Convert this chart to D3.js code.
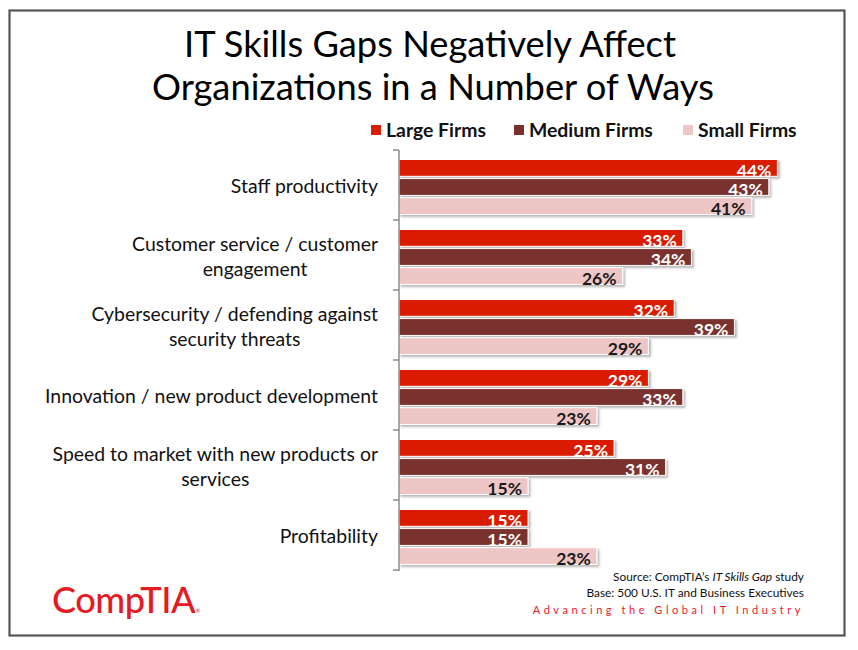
<!DOCTYPE html>
<html>
<head>
<meta charset="utf-8">
<script src="https://cdn.jsdelivr.net/npm/d3@7"></script>
<style>
  html, body { margin: 0; padding: 0; background: #fff; }
  svg { display: block; }
  text { font-family: Lato, "Open Sans", sans-serif; }
</style>
</head>
<body>
<svg id="chart" width="858" height="650"></svg>
<script>
// ---- data ----
const titleLines = ["IT Skills Gaps Negatively Affect", "Organizations in a Number of Ways"];
const categories = [
  ["Staff productivity"],
  ["Customer service / customer", "engagement"],
  ["Cybersecurity / defending against", "security threats"],
  ["Innovation / new product development"],
  ["Speed to market with new products or", "services"],
  ["Profitability"]
];
const seriesNames = ["Large Firms", "Medium Firms", "Small Firms"];
const largeFirms  = [44, 33, 32, 29, 25, 15];
const mediumFirms = [43, 34, 39, 33, 31, 15];
const smallFirms  = [41, 26, 29, 23, 15, 23];
const seriesValues = [largeFirms, mediumFirms, smallFirms];
const seriesColors = ["#d91f05", "#7a302d", "#efc6c6"];
const labelColors  = ["#ffffff", "#ffffff", "#1a1a1a"];
const sourceLines = ["Base: 500 U.S. IT and Business Executives"];
const tagline = "Advancing the Global IT Industry";

// ---- setup ----
const svg = d3.select("#chart");
const defs = svg.append("defs");
const f = defs.append("filter").attr("id", "shadow").attr("x", "-5%").attr("y", "-30%").attr("width", "115%").attr("height", "180%");
f.append("feDropShadow").attr("dx", 2).attr("dy", 2).attr("stdDeviation", 1.2)
  .attr("flood-color", "#000").attr("flood-opacity", 0.28);

// frame
svg.append("rect").attr("x", 9.5).attr("y", 10.5).attr("width", 835).attr("height", 625)
  .attr("fill", "none").attr("stroke", "#555").attr("stroke-width", 2.2);

function fit(sel, target) {
  const w = sel.node().getComputedTextLength();
  const fs = parseFloat(sel.attr("font-size"));
  sel.attr("font-size", fs * target / w);
  return fs * target / w;
}

// title
const t1 = svg.append("text").attr("x", 430).attr("y", 57).attr("text-anchor", "middle")
  .attr("font-size", 34).attr("fill", "#000").text(titleLines[0]);
const t2 = svg.append("text").attr("x", 433).attr("y", 100).attr("text-anchor", "middle")
  .attr("font-size", 34).attr("fill", "#000").text(titleLines[1]);
const tfs = fit(t2, 562);
t1.attr("font-size", tfs);

// scales
const x = d3.scaleLinear().domain([0, 50]).range([399, 399 + 50 * 8.6]);
const y = d3.scaleBand().domain(d3.range(categories.length)).range([150, 570]).padding(0);
const ySub = d3.scaleBand().domain(d3.range(seriesNames.length))
  .range([9.5, 9.5 + 55]).paddingInner(0.12).paddingOuter(0);

// legend
const legendX = [371, 514, 683];
const legend = svg.append("g");
let legFs = 18;
seriesNames.forEach((name, i) => {
  legend.append("rect").attr("x", legendX[i]).attr("y", 125).attr("width", 10).attr("height", 10)
    .attr("fill", seriesColors[i]);
  const lt = legend.append("text").attr("x", legendX[i] + 15).attr("y", 137)
    .attr("font-size", 18).attr("font-weight", "bold").attr("fill", "#111").text(name);
  if (i === 1) legFs = fit(lt, 124);
});
legend.selectAll("text").attr("font-size", legFs);

// bars
const groups = svg.append("g").selectAll("g").data(categories).join("g")
  .attr("transform", (d, i) => `translate(0,${y(i)})`);

seriesValues.forEach((vals, s) => {
  groups.append("rect")
    .attr("x", x(0))
    .attr("y", ySub(s))
    .attr("width", (d, i) => x(vals[categories.indexOf(d)]) - x(0))
    .attr("height", ySub.bandwidth())
    .attr("fill", seriesColors[s])
    .attr("stroke", "#fff").attr("stroke-width", 1)
    .attr("filter", "url(#shadow)");
});
seriesValues.forEach((vals, s) => {
  groups.append("text")
    .attr("x", (d) => x(vals[categories.indexOf(d)]) - 6)
    .attr("y", ySub(s) + ySub.bandwidth() + 0.5)
    .attr("text-anchor", "end")
    .attr("font-size", 17.5).attr("font-weight", "bold")
    .attr("fill", labelColors[s])
    .text((d) => vals[categories.indexOf(d)] + "%");
});

// axis
const axG = svg.append("g").attr("transform", `translate(${x(0)},0)`);
axG.append("line").attr("x1", 0).attr("x2", 0).attr("y1", 150).attr("y2", 571)
  .attr("stroke", "#8c8c8c").attr("stroke-width", 1.5);
const bounds = y.domain().map(i => y(i)).concat([y.range()[1]]);
axG.selectAll(".bt").data(bounds).join("line").attr("class", "bt")
  .attr("x1", -6).attr("x2", 0).attr("y1", d => d).attr("y2", d => d)
  .attr("stroke", "#8c8c8c").attr("stroke-width", 1.5);

// category labels
const labelRight = 378;
const probe = svg.append("text").attr("font-size", 18).text(categories[3][0]);
const catFs = fit(probe, 333);
probe.remove();
categories.forEach((lines, i) => {
  const cy = y(i) + y.bandwidth() / 2 + 1.5;
  const lh = catFs * 1.27;
  const g = svg.append("g");
  const texts = lines.map((ln, k) => g.append("text")
    .attr("font-size", catFs).attr("fill", "#111")
    .attr("y", cy + (k - (lines.length - 1) / 2) * lh + catFs * 0.35)
    .text(ln));
  const w0 = texts[0].node().getComputedTextLength();
  const center = labelRight - w0 / 2;
  texts.forEach(t => t.attr("x", center).attr("text-anchor", "middle"));
});

// source / footer
const src = svg.append("text").attr("x", 804).attr("y", 581).attr("text-anchor", "end")
  .attr("font-size", 12).attr("fill", "#111");
src.append("tspan").text("Source: CompTIA\u2019s ");
src.append("tspan").attr("font-style", "italic").text("IT Skills Gap");
src.append("tspan").text(" study");
const srcFs = fit(src, 191);
svg.append("text").attr("x", 804).attr("y", 597).attr("text-anchor", "end")
  .attr("font-size", srcFs).attr("fill", "#111").text(sourceLines[0]);
svg.append("text").attr("x", 804).attr("y", 614).attr("text-anchor", "end")
  .attr("font-size", 11).attr("letter-spacing", 3.55).attr("fill", "#e8202a").text(tagline);

// logo
const logo = svg.append("text").attr("x", 52).attr("y", 613).attr("font-size", 34)
  .attr("font-weight", 500).attr("fill", "#e31b23").attr("letter-spacing", -0.5).text("CompTIA");
fit(logo, 143);
svg.append("text").attr("x", 196).attr("y", 613).attr("font-size", 5).attr("fill", "#e31b23").text("®");
</script>
</body>
</html>
